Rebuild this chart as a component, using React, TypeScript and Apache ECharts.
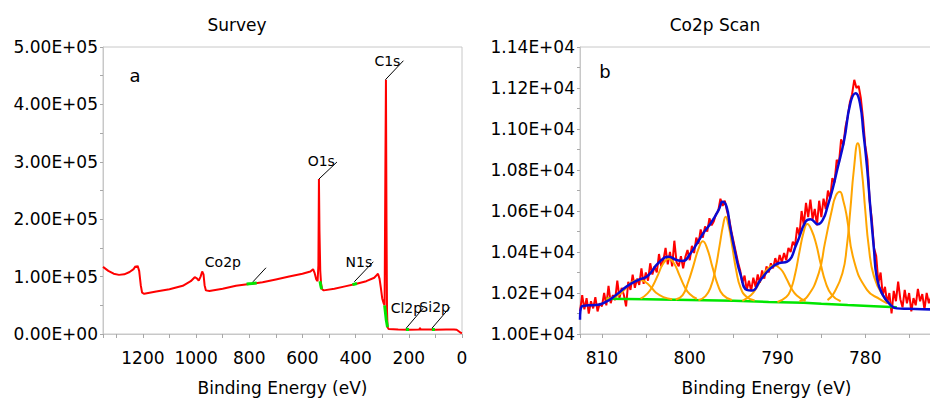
import React, { useEffect, useRef } from 'react';
import * as echarts from 'echarts';

// ---------- Survey (panel a) ----------
const surveySpectrum: [number, number][] = [
  [1350, 117000], [1330, 110000], [1310, 105000], [1290, 103000], [1270, 104000], [1250, 108000],
  [1235, 113000], [1228, 118000], [1224, 116000], [1220, 119000], [1214, 110000], [1208, 85000],
  [1203, 72000], [1195, 70000], [1150, 74000], [1100, 78000], [1050, 84000], [1020, 92000],
  [1005, 99000], [997, 97000], [990, 93000], [983, 100000], [977, 109000], [972, 104000],
  [968, 85000], [963, 76000], [950, 75000], [900, 79000], [850, 84000], [800, 87000],
  [750, 90000], [700, 95000], [650, 100000], [600, 105000], [570, 109000], [560, 113000],
  [554, 106000], [548, 95000], [543, 92000], [540, 120000], [538, 270000], [536, 180000],
  [533, 110000], [530, 88000], [526, 78000], [520, 76000], [480, 79000], [440, 83000],
  [400, 87000], [360, 92000], [330, 98000], [320, 103000], [316, 105000], [310, 96000],
  [305, 80000], [300, 62000], [295, 54000], [291, 50000], [288, 300000], [286, 443000],
  [284, 200000], [282, 40000], [280, 12000], [276, 8500], [240, 8000], [200, 7500],
  [160, 8000], [158, 11000], [156, 8000], [120, 8000], [100, 7500], [60, 8000],
  [30, 8000], [20, 7500], [10, 4000], [5, 2000], [0, 1500],
];

const surveyRegionCo2p: [number, number][] = [[810, 87000], [790, 88000], [772, 89000]];
const surveyRegionO1s: [number, number][] = [[534, 92000], [531, 84000], [528, 78000]];
const surveyRegionN1s: [number, number][] = [[412, 86000], [403, 87000], [395, 88000]];
const surveyRegionC1s: [number, number][] = [[291, 50000], [285, 25000], [280, 12000]];
const surveyRegionCl2p: [number, number][] = [[211, 8000], [199, 8000]];
const surveyRegionSi2p: [number, number][] = [[113, 8000], [102, 8000]];

const surveyPeakNames = ['C1s', 'O1s', 'Co2p', 'N1s', 'Cl2p', 'Si2p'];
const surveyPeakEnergy = [288, 538, 786, 405, 210, 113];
const surveyPeakCounts = [443000, 270000, 91000, 91000, 10000, 10000];

// ---------- Co2p scan (panel b) ----------
const scanRaw: [number, number][] = [
  [812.5, 10110], [812.25, 10190], [812.0, 10120], [811.75, 10175], [811.5, 10100], [811.25, 10160],
  [811.0, 10125], [810.75, 10180], [810.5, 10110], [810.25, 10150], [810.0, 10135], [809.75, 10200],
  [809.5, 10140], [809.25, 10235], [809.0, 10150], [808.75, 10190], [808.5, 10165], [808.25, 10260],
  [808.0, 10175], [807.75, 10225], [807.5, 10190], [807.25, 10135], [807.0, 10255], [806.75, 10215],
  [806.5, 10290], [806.25, 10225], [806.0, 10270], [805.75, 10240], [805.5, 10320], [805.25, 10245],
  [805.0, 10300], [804.75, 10260], [804.5, 10345], [804.25, 10290], [804.0, 10330], [803.75, 10300],
  [803.5, 10390], [803.25, 10330], [803.0, 10360], [802.75, 10420], [802.5, 10340], [802.25, 10400],
  [802.0, 10330], [801.75, 10455], [801.5, 10350], [801.25, 10330], [801.0, 10380], [800.75, 10320],
  [800.5, 10375], [800.25, 10410], [800.0, 10360], [799.75, 10430], [799.5, 10395], [799.25, 10470],
  [799.0, 10440], [798.75, 10510], [798.5, 10470], [798.25, 10525], [798.0, 10500], [797.75, 10565],
  [797.5, 10530], [797.25, 10550], [797.0, 10585], [796.75, 10600], [796.5, 10660], [796.25, 10625],
  [796.0, 10650], [795.75, 10600], [795.5, 10560], [795.25, 10500], [795.0, 10450], [794.75, 10400],
  [794.5, 10350], [794.25, 10310], [794.0, 10250], [793.75, 10285], [793.5, 10215], [793.25, 10260],
  [793.0, 10210], [792.75, 10275], [792.5, 10230], [792.25, 10290], [792.0, 10250], [791.75, 10310],
  [791.5, 10270], [791.25, 10330], [791.0, 10300], [790.75, 10345], [790.5, 10320], [790.25, 10370],
  [790.0, 10335], [789.75, 10385], [789.5, 10350], [789.25, 10395], [789.0, 10360], [788.75, 10420],
  [788.5, 10400], [788.25, 10450], [788.0, 10430], [787.75, 10520], [787.5, 10480], [787.25, 10600],
  [787.0, 10530], [786.75, 10640], [786.5, 10570], [786.25, 10655], [786.0, 10560], [785.75, 10610],
  [785.5, 10530], [785.25, 10650], [785.0, 10570], [784.75, 10660], [784.5, 10610], [784.25, 10700],
  [784.0, 10660], [783.75, 10760], [783.5, 10740], [783.25, 10850], [783.0, 10830], [782.75, 10950],
  [782.5, 10920], [782.25, 11010], [782.0, 11060], [781.75, 11130], [781.5, 11170], [781.25, 11240],
  [781.0, 11200], [780.75, 11210], [780.5, 11150], [780.25, 11050], [780.0, 10920], [779.75, 10850],
  [779.5, 10650], [779.25, 10560], [779.0, 10420], [778.75, 10380], [778.5, 10250], [778.25, 10300],
  [778.0, 10190], [777.75, 10230], [777.5, 10150], [777.25, 10200], [777.0, 10100], [776.75, 10210],
  [776.5, 10160], [776.25, 10255], [776.0, 10170], [775.75, 10130], [775.5, 10215], [775.25, 10150],
  [775.0, 10200], [774.75, 10110], [774.5, 10175], [774.25, 10140], [774.0, 10220], [773.75, 10160],
  [773.5, 10195], [773.25, 10120], [773.0, 10200], [772.75, 10150], [772.5, 10180],
];

const scanEnvelope: [number, number][] = [
  [812.5, 10070], [812.3, 10135], [811.5, 10140], [810.7, 10141], [809.5, 10158], [808.4, 10190],
  [807.2, 10231], [805.9, 10263], [804.8, 10283], [803.6, 10345], [802.4, 10377], [801.5, 10361],
  [800.8, 10356], [799.9, 10394], [799.2, 10440], [798.4, 10495], [797.6, 10540], [796.7, 10605],
  [796.25, 10645], [795.8, 10621], [795.4, 10523], [794.8, 10394], [794.2, 10288], [793.5, 10215],
  [792.9, 10212], [791.95, 10263], [790.8, 10320], [789.9, 10345], [788.9, 10353], [787.8, 10442],
  [786.8, 10548], [786.25, 10560], [785.4, 10535], [784.8, 10560], [784.3, 10621], [783.7, 10710],
  [783.2, 10800], [782.4, 10946], [781.7, 11125], [781.1, 11174], [780.6, 11125], [780.2, 10979],
  [779.8, 10816], [779.4, 10605], [779.0, 10410], [778.7, 10280], [778.1, 10198], [777.1, 10141],
  [776.4, 10125], [775.0, 10123], [773.5, 10121], [772.5, 10120],
];

const scanBackground: [number, number][] = [
  [809.5, 10172], [805, 10170], [800, 10166], [795, 10162], [791, 10156], [787, 10153],
  [785, 10148], [782, 10141], [779, 10135], [776.4, 10130],
];

const peak1: [number, number][] = [
  [809.5, 10172], [808.6, 10180], [807.8, 10200], [807.2, 10228], [806.6, 10252], [805.8, 10265],
  [805.0, 10252], [804.4, 10228], [803.8, 10200], [803.0, 10180], [802.0, 10170],
];
const peak2: [number, number][] = [
  [805.6, 10172], [804.8, 10198], [804.2, 10235], [803.6, 10290], [803.0, 10345], [802.4, 10367],
  [801.8, 10345], [801.2, 10290], [800.6, 10232], [800.0, 10195], [799.2, 10172],
];
const peak3: [number, number][] = [
  [801.6, 10168], [800.8, 10190], [800.2, 10250], [799.6, 10330], [799.0, 10415], [798.5, 10452],
  [798.0, 10415], [797.4, 10325], [796.8, 10240], [796.2, 10190], [795.2, 10166],
];
const peak4: [number, number][] = [
  [799.0, 10165], [798.2, 10185], [797.6, 10230], [797.1, 10310], [796.6, 10430], [796.2, 10530],
  [795.9, 10572], [795.6, 10535], [795.2, 10440], [794.7, 10310], [794.2, 10225], [793.5, 10180],
  [792.6, 10163],
];
const peak5: [number, number][] = [
  [794.0, 10162], [793.0, 10190], [792.4, 10225], [791.8, 10272], [791.2, 10315], [790.4, 10335],
  [789.6, 10315], [789.0, 10272], [788.4, 10222], [787.8, 10188], [786.8, 10160],
];
const peak6: [number, number][] = [
  [790.0, 10156], [789.0, 10180], [788.5, 10215], [788.0, 10290], [787.5, 10400], [787.0, 10500],
  [786.6, 10537], [786.1, 10505], [785.6, 10440], [785.1, 10346], [784.5, 10250], [783.8, 10190],
  [782.8, 10160],
];
const peak7: [number, number][] = [
  [787.5, 10160], [786.6, 10182], [785.3, 10296], [784.6, 10442], [783.8, 10605], [783.35, 10675],
  [782.9, 10694], [782.5, 10650], [782.1, 10572], [781.3, 10361], [779.8, 10215], [778.3, 10169],
  [777.5, 10150],
];
const peak8: [number, number][] = [
  [784.3, 10165], [783.6, 10198], [782.6, 10296], [782.1, 10426], [781.7, 10605], [781.3, 10800],
  [780.85, 10930], [780.4, 10800], [780.0, 10605], [779.6, 10426], [779.0, 10280], [777.9, 10182],
  [777.0, 10141],
];
const scanPeaks = [peak1, peak2, peak3, peak4, peak5, peak6, peak7, peak8];

const panelTitles = ['Survey', 'Co2p Scan'];
const panelLetters = ['a', 'b'];

function sciLabel(v: number): string {
  const [m, e] = v.toExponential(2).split('e');
  const n = parseInt(e, 10);
  return `${m}E${n < 0 ? '-' : '+'}${String(Math.abs(n)).padStart(2, '0')}`;
}

export default function App() {
  const ref = useRef<HTMLDivElement>(null);

  useEffect(() => {
    const chart = echarts.init(ref.current!, null, { renderer: 'svg' });
    const font = 'DejaVu Sans';
    const axisGray = '#c8c8c8';
    const tickGray = '#a8a8a8';
    const red = '#ff0000';
    const green = '#00e600';
    const orange = '#ffa500';
    const blue = '#0a0ad2';

    const xCommon = {
      type: 'value',
      inverse: true,
      nameLocation: 'middle',
      nameGap: 45,
      nameTextStyle: { fontSize: 17, color: '#000', fontFamily: font },
      axisLine: { onZero: false, lineStyle: { color: axisGray, width: 1 } },
      axisTick: { length: 4, lineStyle: { color: tickGray } },
      splitLine: { show: false },
    };
    const yCommon = {
      type: 'value',
      axisLine: { show: true, onZero: false, lineStyle: { color: axisGray, width: 1 } },
      axisTick: { show: true, length: 3, lineStyle: { color: tickGray } },
      minorTick: { show: true, splitNumber: 2, length: 3, lineStyle: { color: tickGray } },
      splitLine: { show: false },
      axisLabel: { fontSize: 17, color: '#000', margin: 5, fontFamily: font, formatter: (v: number) => sciLabel(v) },
    };

    const lineSeries = (data: [number, number][], grid: number, color: string, width: number, smooth = false, z = 2) => ({
      type: 'line',
      xAxisIndex: grid,
      yAxisIndex: grid,
      data,
      showSymbol: false,
      smooth,
      z,
      lineStyle: { color, width },
      itemStyle: { color },
      emphasis: { disabled: true },
    });

    chart.setOption({
      animation: false,
      backgroundColor: '#ffffff',
      textStyle: { fontFamily: font },
      grid: [
        { left: 103, top: 47, width: 359, height: 287, show: true, borderColor: axisGray, borderWidth: 1, outerBoundsMode: 'none', containLabel: false },
        { left: 580, top: 47, width: 373, height: 287, show: true, borderColor: axisGray, borderWidth: 1, outerBoundsMode: 'none', containLabel: false },
      ],
      xAxis: [
        {
          ...xCommon,
          gridIndex: 0,
          min: 0,
          max: 1350,
          interval: 100,
          name: 'Binding Energy (eV)',
          axisLabel: {
            fontSize: 17, color: '#000', margin: 15, fontFamily: font,
            formatter: (v: number) => (v % 200 === 0 ? String(v) : ''),
          },
        },
        {
          ...xCommon,
          gridIndex: 1,
          min: 770,
          max: 812.5,
          interval: 5,
          name: 'Binding Energy (eV)',
          axisLabel: {
            fontSize: 17, color: '#000', margin: 15, fontFamily: font,
            formatter: (v: number) => (v % 10 === 0 && v > 772.5 ? String(v) : ''),
          },
        },
      ],
      yAxis: [
        { ...yCommon, gridIndex: 0, min: 0, max: 500000, interval: 100000 },
        { ...yCommon, gridIndex: 1, min: 10000, max: 11400, interval: 200 },
      ],
      series: [
        lineSeries(surveySpectrum, 0, red, 2),
        lineSeries(surveyRegionCo2p, 0, green, 3, false, 3),
        lineSeries(surveyRegionO1s, 0, green, 3, false, 3),
        lineSeries(surveyRegionN1s, 0, green, 3, false, 3),
        lineSeries(surveyRegionC1s, 0, green, 3, false, 3),
        lineSeries(surveyRegionCl2p, 0, green, 3, false, 3),
        lineSeries(surveyRegionSi2p, 0, green, 3, false, 3),
        lineSeries(scanRaw, 1, red, 2, false, 2),
        lineSeries(scanBackground, 1, green, 2.5, false, 3),
        ...scanPeaks.map((p) => lineSeries(p, 1, orange, 2, true, 4)),
        lineSeries(scanEnvelope, 1, blue, 2.5, true, 5),
      ],
    });

    const textStyle = (text: string, size: number, align: string, vAlign: string) => ({
      text,
      fill: '#000',
      fontSize: size,
      fontFamily: font,
      align,
      verticalAlign: vAlign,
      textAlign: align,
      textVerticalAlign: vAlign,
    });

    const graphics: any[] = [
      { type: 'text', x: 237, y: 25, style: textStyle(panelTitles[0], 17, 'center', 'middle') },
      { type: 'text', x: 715, y: 25, style: textStyle(panelTitles[1], 17, 'center', 'middle') },
      { type: 'text', x: 135, y: 75, style: textStyle(panelLetters[0], 18, 'center', 'middle') },
      { type: 'text', x: 605, y: 71, style: textStyle(panelLetters[1], 18, 'center', 'middle') },
    ];

    // leader offsets (px): line end relative to peak, label relative to line end
    const leader = [
      [18, -19, -3, 0],
      [18, -17, -2, -1],
      [13, -14, -25, -6],
      [19, -20, -1, 0],
      [17, -20, -1, 0],
      [18, -21, 0, 0],
    ];
    surveyPeakNames.forEach((name, i) => {
      const p = chart.convertToPixel({ gridIndex: 0 }, [surveyPeakEnergy[i], surveyPeakCounts[i]]) as number[];
      const [dx, dy, tx, ty] = leader[i];
      const ex = p[0] + dx;
      const ey = p[1] + dy;
      graphics.push({
        type: 'line',
        shape: { x1: p[0], y1: p[1], x2: ex, y2: ey },
        style: { stroke: '#000', lineWidth: 1 },
        z: 10,
      });
      graphics.push({
        type: 'text',
        x: ex + tx,
        y: ey + ty,
        z: 10,
        style: textStyle(name, 14, 'right', 'middle'),
      });
    });

    chart.setOption({ graphic: graphics });

    return () => chart.dispose();
  }, []);

  return (
    <div
      ref={ref}
      style={{ position: 'fixed', left: 0, top: 0, width: 930, height: 400, background: '#fff' }}
    />
  );
}
